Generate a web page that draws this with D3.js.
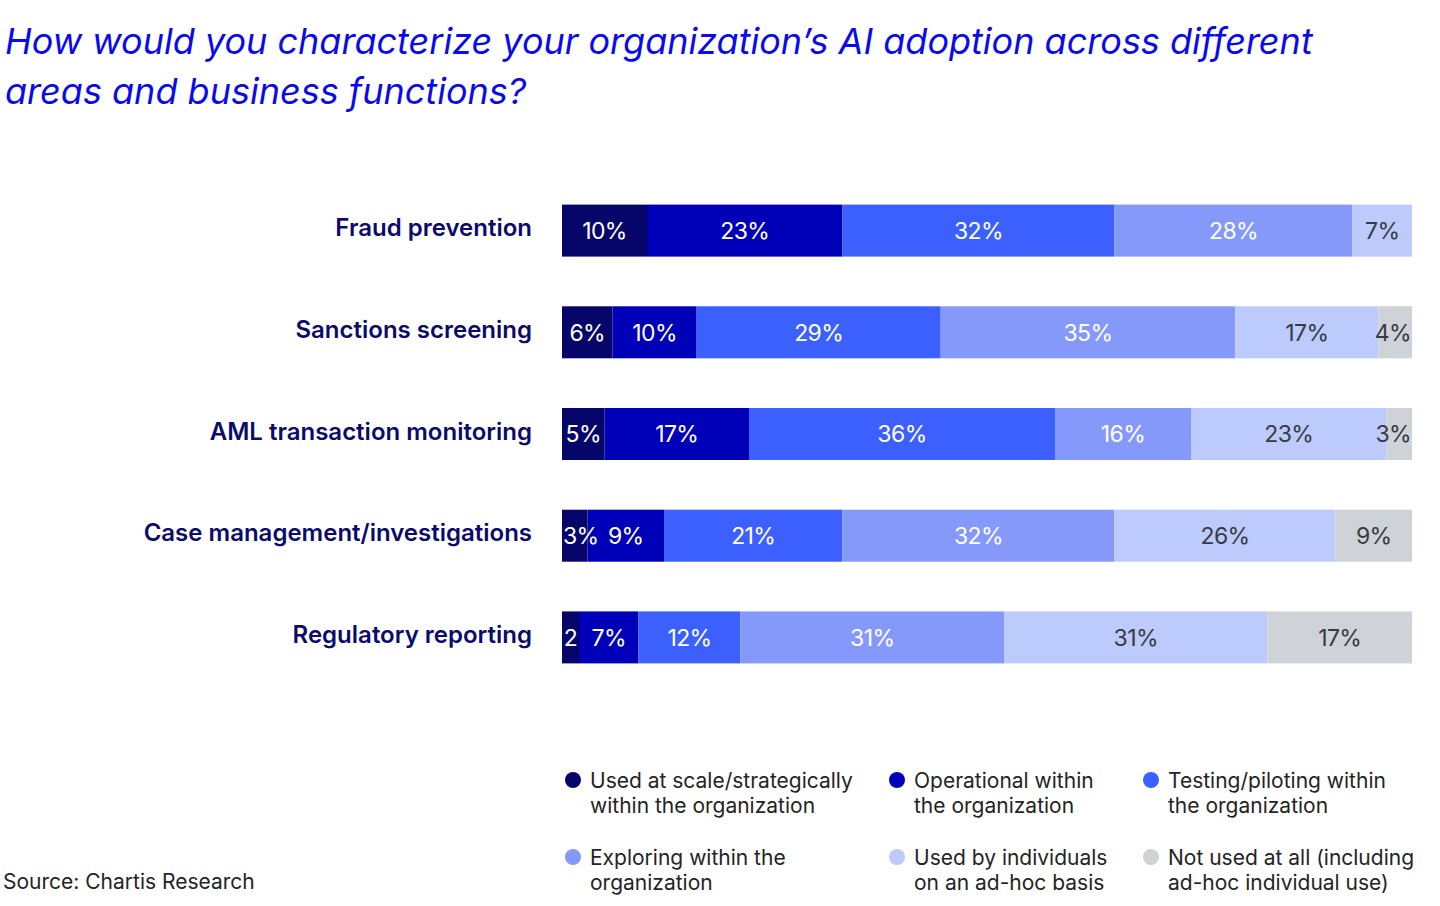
<!DOCTYPE html>
<html>
<head>
<meta charset="utf-8">
<script src="https://cdn.jsdelivr.net/npm/d3@7"></script>
<style>
  body { margin: 0; background: #fff; }
  svg { display: block; font-family: Inter, "Noto Sans", sans-serif; }
</style>
</head>
<body>
<div id="chart"></div>
<script>
const FRAME_WIDTH = 1440;
const FRAME_HEIGHT = 906;

// data
const categories = ["Fraud prevention", "Sanctions screening", "AML transaction monitoring",
                    "Case management/investigations", "Regulatory reporting"];
const seriesKeys = ["scale", "operational", "testing", "exploring", "individuals", "notused"];
const seriesLabels = [
  ["Used at scale/strategically", "within the organization"],
  ["Operational within", "the organization"],
  ["Testing/piloting within", "the organization"],
  ["Exploring within the", "organization"],
  ["Used by individuals", "on an ad-hoc basis"],
  ["Not used at all (including", "ad-hoc individual use)"]
];
const usedAtScale   = [10, 6, 5, 3, 2];
const operational   = [23, 10, 17, 9, 7];
const testing       = [32, 29, 36, 21, 12];
const exploring     = [28, 35, 16, 32, 31];
const individuals   = [7, 17, 23, 26, 31];
const notUsed       = [0, 4, 3, 9, 17];

const colors = ["#06066a", "#0000b9", "#3b60fe", "#8599fa", "#bdcafc", "#cfd2d6"];
const labelColors = ["#ffffff", "#ffffff", "#ffffff", "#ffffff", "#353b45", "#353b45"];

const seriesValues = [usedAtScale, operational, testing, exploring, individuals, notUsed];
const table = categories.map((c, i) => {
  const row = {category: c};
  seriesKeys.forEach((k, j) => { row[k] = seriesValues[j][i]; });
  return row;
});

const svg = d3.select("#chart")
  .append("svg")
    .attr("width", FRAME_WIDTH)
    .attr("height", FRAME_HEIGHT);

// title
const title = svg.append("text")
  .attr("fill", "#0a0aee")
  .attr("font-size", "36px")
  .attr("font-style", "italic");
title.append("tspan").attr("x", 5).attr("y", 54)
  .text("How would you characterize your organization\u2019s AI adoption across different");
title.append("tspan").attr("x", 5).attr("y", 104)
  .text("areas and business functions?");

// scales
const X_SCALE = d3.scaleLinear()
  .domain([0, 1])
  .range([562, 1412]);

const Y_SCALE = d3.scaleBand()
  .domain(categories)
  .range([204.6, 663.4])
  .paddingInner(0.4887)
  .paddingOuter(0);

const stacked = d3.stack()
  .keys(seriesKeys)
  .offset(d3.stackOffsetExpand)(table);

const layers = svg.selectAll(".layer")
  .data(stacked)
  .enter()
  .append("g")
    .attr("class", "layer")
    .attr("fill", (d, i) => colors[i]);

layers.selectAll("rect")
  .data(d => d.filter(s => s[1] > s[0]))
  .enter()
  .append("rect")
    .attr("x", d => X_SCALE(d[0]))
    .attr("y", d => Y_SCALE(d.data.category))
    .attr("width", d => X_SCALE(d[1]) - X_SCALE(d[0]))
    .attr("height", Y_SCALE.bandwidth());

// value labels inside the segments, kept inside the bar ends
stacked.forEach((layer, i) => {
  svg.append("g")
    .selectAll("text")
    .data(layer.filter(s => s[1] > s[0]))
    .enter()
    .append("text")
      .attr("y", d => Y_SCALE(d.data.category) + Y_SCALE.bandwidth() / 2)
      .attr("dy", "0.36em")
      .attr("text-anchor", "middle")
      .attr("font-size", "23px")
      .attr("letter-spacing", "-0.6px")
      .attr("fill", labelColors[i])
      .text(d => {
        const v = d.data[layer.key];
        return (X_SCALE(d[1]) - X_SCALE(d[0])) < 20 ? v : v + "%";
      })
      .attr("x", function(d) {
        const w = this.getComputedTextLength();
        let cx = (X_SCALE(d[0]) + X_SCALE(d[1])) / 2;
        cx = Math.max(cx, X_SCALE.range()[0] + w / 2 + 1);
        cx = Math.min(cx, X_SCALE.range()[1] - w / 2 - 1);
        return cx;
      });
});

// category labels
svg.append("g")
  .selectAll("text")
  .data(categories)
  .enter()
  .append("text")
    .attr("x", 532)
    .attr("y", d => Y_SCALE(d) + Y_SCALE.bandwidth() / 2 - 3)
    .attr("dy", "0.36em")
    .attr("text-anchor", "end")
    .attr("font-size", "24px")
    .attr("font-weight", 600)
    .attr("fill", "#0b0b6b")
    .text(d => d);

// legend, 3 columns x 2 rows
const legendCols = [573, 897, 1151];
const legendRows = [780, 857];
const legend = svg.append("g")
  .selectAll("g")
  .data(seriesKeys)
  .enter()
  .append("g")
    .attr("transform", (d, i) => "translate(" + legendCols[i % 3] + "," + legendRows[Math.floor(i / 3)] + ")");

legend.append("circle")
  .attr("r", 8)
  .attr("fill", (d, i) => colors[i]);

legend.each(function(d, i) {
  const t = d3.select(this).append("text")
    .attr("font-size", "21px")
    .attr("fill", "#242424");
  seriesLabels[i].forEach((line, k) => {
    t.append("tspan")
      .attr("x", 17)
      .attr("y", 8 + k * 25)
      .text(line);
  });
});

// source
svg.append("text")
  .attr("x", 3)
  .attr("y", 889)
  .attr("font-size", "21px")
  .attr("fill", "#242424")
  .text("Source: Chartis Research");
</script>
</body>
</html>
